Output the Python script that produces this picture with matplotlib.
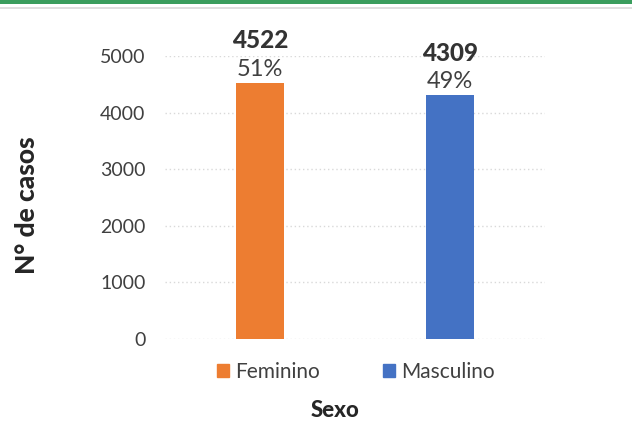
import matplotlib.pyplot as plt
from matplotlib.patches import Rectangle
from matplotlib.lines import Line2D

# DATA

categorias = ["Feminino", "Masculino"]
casos = [4522, 4309]
percentuais = ["51%", "49%"]
cores = ["#ED7D31", "#4472C4"]
yticks = [0, 1000, 2000, 3000, 4000, 5000]

plt.rcParams['font.family'] = ['Lato', 'DejaVu Sans']

# FIGURE

fig = plt.figure(figsize=(6.32, 4.24), dpi=100)
ax = fig.add_axes([0.261, 0.2005, 0.601, 0.6675])

# top decoration
fig.add_artist(Rectangle((0, 1 - 4 / 424), 1, 4 / 424, transform=fig.transFigure,
                         color="#3A9D5D", lw=0))
fig.add_artist(Line2D([0, 1], [1 - 8 / 424, 1 - 8 / 424], transform=fig.transFigure,
                      color="#D9D9D9", lw=1.2))

# BARS

x = list(range(len(categorias)))
bars = ax.bar(x, casos, width=0.25, color=cores, zorder=3)

for xi, v, p in zip(x, casos, percentuais):
    ax.annotate(p, (xi, v), xytext=(0, 2), textcoords="offset points",
                ha="center", va="bottom", fontsize=17, color="#404040")
    ax.annotate(str(v), (xi, v), xytext=(0, 22), textcoords="offset points",
                ha="center", va="bottom", fontsize=17.5, fontweight="black",
                color="#333333")

# AXES

ax.set_xlim(-0.5, 1.5)
ax.set_ylim(0, 5000)
ax.set_yticks(yticks)
ax.set_xticks([])
ax.tick_params(axis="y", length=0, labelsize=14, labelcolor="#404040", pad=14)
ax.grid(axis="y", color="#D9D9D9", linestyle=(0, (1, 2)), lw=1, zorder=0)
for s in ax.spines.values():
    s.set_visible(False)

fig.text(0.043, 0.516, "N° de casos", rotation=90, ha="center", va="center",
         fontsize=19, fontweight="black", color="#262626")
fig.text(0.530, 0.031, "Sexo", ha="center", va="center",
         fontsize=16, fontweight="black", color="#262626")

handles = [Rectangle((0, 0), 1, 1, color=c) for c in cores]
fig.legend(handles, categorias, loc="center", bbox_to_anchor=(0.563, 0.123),
           ncol=2, frameon=False, fontsize=15, labelcolor="#404040",
           handlelength=0.6, handleheight=0.6, handletextpad=0.3,
           columnspacing=3.0)

fig.savefig("out.png", dpi=100)
